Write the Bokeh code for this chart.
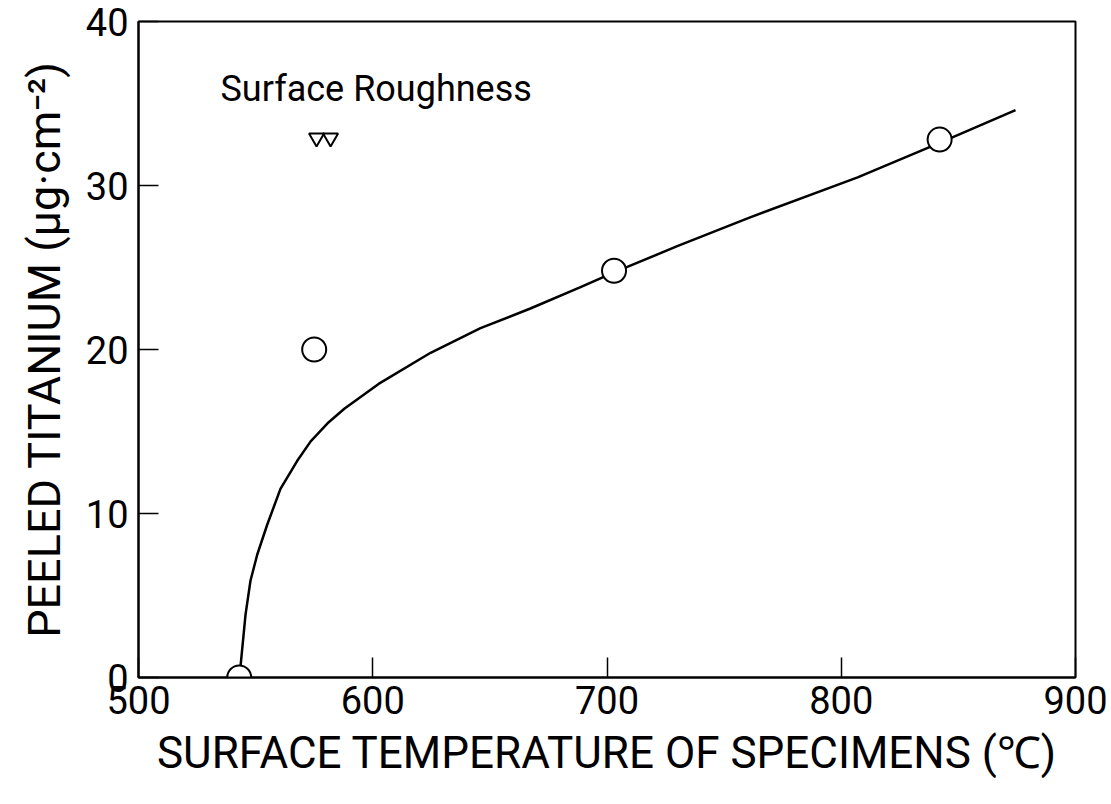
from bokeh.plotting import figure
from bokeh.models import Range1d, FixedTicker, Label
from bokeh.embed import file_html
from bokeh.resources import INLINE

# data points (circles)
temp_pts = [543, 575, 703, 842]
ti_pts = [0, 20, 24.8, 32.8]

# surface roughness markers
rough_x = [576, 582]
rough_y = [32.9, 32.9]

# fitted curve
curve_x = [543, 543.5, 545.7, 547.8, 550.7, 554.9, 560.6, 567.7, 573.5, 580.7, 588,
           602.5, 624.7, 646, 667.3, 688.7, 703, 730, 760, 807, 842, 874.4]
curve_y = [0, 0.6, 3.85, 5.9, 7.5, 9.3, 11.5, 13.2, 14.4, 15.5, 16.4,
           17.9, 19.8, 21.3, 22.5, 23.8, 24.7, 26.3, 28.0, 30.5, 32.6, 34.6]

x_ticks = [500, 600, 700, 800, 900]
y_ticks = [0, 10, 20, 30, 40]

FONT = "Roboto"

p = figure(width=1111, height=804, output_backend="svg", toolbar_location=None,
           x_range=Range1d(500, 900), y_range=Range1d(0, 40),
           min_border_left=138, min_border_right=36, min_border_top=21, min_border_bottom=127)
p.background_fill_color = "white"
p.border_fill_color = "white"
p.outline_line_color = "black"
p.outline_line_width = 2
p.grid.visible = False

for ax in (p.xaxis[0], p.yaxis[0]):
    ax.axis_line_width = 2
    ax.major_tick_line_width = 1.5
    ax.major_tick_in = 20
    ax.major_tick_out = 0
    ax.minor_tick_line_color = None
    ax.major_label_text_font = FONT
    ax.major_label_text_font_size = "38px"
    ax.major_label_text_color = "black"
    ax.axis_label_text_font = FONT
    ax.axis_label_text_font_style = "normal"
    ax.axis_label_text_color = "black"

p.xaxis.ticker = FixedTicker(ticks=x_ticks)
p.yaxis.ticker = FixedTicker(ticks=y_ticks)
p.xaxis.major_label_standoff = 8
p.yaxis.major_label_standoff = 10
p.xaxis.axis_label = "SURFACE TEMPERATURE OF SPECIMENS (℃)"
p.xaxis.axis_label_text_font_size = "44px"
p.xaxis.axis_label_standoff = 10
p.yaxis.axis_label = "PEELED TITANIUM (μg·cm⁻²)"
p.yaxis.axis_label_text_font_size = "45px"
p.yaxis.axis_label_standoff = 12

p.line(curve_x, curve_y, line_color="black", line_width=2.5)
p.scatter(temp_pts, ti_pts, marker="circle", size=24, fill_color="white",
          line_color="black", line_width=2)
p.scatter(rough_x, rough_y, marker="inverted_triangle", size=15, fill_color="white",
          line_color="black", line_width=2)

p.add_layout(Label(x=535, y=34.6, text="Surface Roughness", text_font=FONT,
                   text_font_size="36px", text_color="black"))

open("out.html", "w").write(file_html(p, INLINE))
